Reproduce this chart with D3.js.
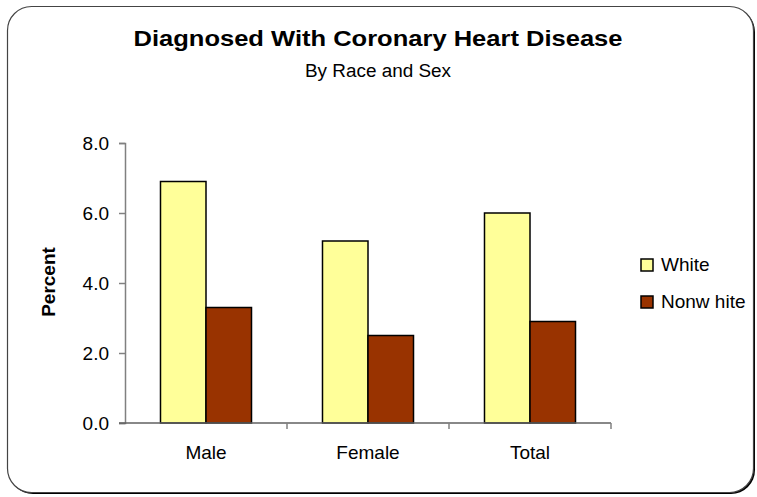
<!DOCTYPE html>
<html>
<head>
<meta charset="utf-8">
<script src="https://cdn.jsdelivr.net/npm/d3@7"></script>
<style>
  body { margin: 0; background: #fff; }
  text { font-family: "Liberation Sans", Arial, sans-serif; fill: #000; }
</style>
</head>
<body>
<div id="chart"></div>
<script>
var categories = ["Male", "Female", "Total"];
var series = ["White", "Nonwhite"];
var seriesLabels = ["White", "Nonw hite"];
var whiteValues = [6.9, 5.2, 6.0];
var nonwhiteValues = [3.3, 2.5, 2.9];
var yTicks = [0, 2, 4, 6, 8];

var width = 757,
    height = 497;

var color = d3.scaleOrdinal()
    .domain(series)
    .range(["#FFFF99", "#993300"]);

var data = categories.map(function(c, i) {
    return {category: c, White: whiteValues[i], Nonwhite: nonwhiteValues[i]};
});

var svg = d3.select("#chart").append("svg")
    .attr("width", width)
    .attr("height", height);

// chart frame with a dark shadow at the lower right
svg.append("rect")
    .attr("x", 9).attr("y", 8)
    .attr("width", 746).attr("height", 486)
    .attr("rx", 24)
    .attr("fill", "#000");
svg.append("rect")
    .attr("x", 7.5).attr("y", 6.5)
    .attr("width", 746).attr("height", 486)
    .attr("rx", 24)
    .attr("fill", "#fff")
    .attr("stroke", "#444")
    .attr("stroke-width", 1.2);

svg.append("text")
    .attr("x", 378).attr("y", 46)
    .attr("text-anchor", "middle")
    .attr("textLength", 489)
    .attr("lengthAdjust", "spacingAndGlyphs")
    .style("font-size", "22px")
    .style("font-weight", "bold")
    .text("Diagnosed With Coronary Heart Disease");

svg.append("text")
    .attr("x", 378).attr("y", 77)
    .attr("text-anchor", "middle")
    .attr("textLength", 146)
    .attr("lengthAdjust", "spacingAndGlyphs")
    .style("font-size", "18px")
    .text("By Race and Sex");

var x0 = d3.scaleBand()
    .domain(categories)
    .range([125, 611]);

var x1 = d3.scaleBand()
    .domain(series)
    .range([0, x0.bandwidth()])
    .paddingOuter(0.78);

var y = d3.scaleLinear()
    .domain([0, 8])
    .range([423, 143]);

var yAxis = d3.axisLeft(y)
    .tickValues(yTicks)
    .tickSize(6)
    .tickPadding(10)
    .tickFormat(d3.format(".1f"));

var gy = svg.append("g")
    .attr("transform", "translate(125,0)")
    .call(yAxis);
gy.select(".domain").attr("stroke", "#808080").attr("stroke-width", 1.5);
gy.selectAll(".tick line").attr("stroke", "#808080").attr("stroke-width", 1.5);
gy.selectAll(".tick text")
    .style("font-size", "19px")
    .attr("fill", "#000");

// bars
var groups = svg.append("g").selectAll("g")
    .data(data)
    .enter().append("g")
    .attr("transform", function(d) { return "translate(" + x0(d.category) + ",0)"; });

groups.selectAll("rect")
    .data(function(d) { return series.map(function(s) { return {key: s, value: d[s]}; }); })
    .enter().append("rect")
    .attr("x", function(d) { return x1(d.key); })
    .attr("y", function(d) { return y(d.value); })
    .attr("width", x1.bandwidth())
    .attr("height", function(d) { return y(0) - y(d.value); })
    .attr("fill", function(d) { return color(d.key); })
    .attr("stroke", "#000")
    .attr("stroke-width", 1.5);

// x axis: line, boundary ticks, centred labels
var gx = svg.append("g");
gx.append("line")
    .attr("x1", 119).attr("x2", 611)
    .attr("y1", y(0)).attr("y2", y(0))
    .attr("stroke", "#606060")
    .attr("stroke-width", 1.5);
gx.selectAll(".bound")
    .data(categories.slice(1).concat(["end"]))
    .enter().append("line")
    .attr("x1", function(d, i) { return 125 + x0.step() * (i + 1); })
    .attr("x2", function(d, i) { return 125 + x0.step() * (i + 1); })
    .attr("y1", y(0)).attr("y2", y(0) + 6)
    .attr("stroke", "#808080")
    .attr("stroke-width", 1.5);
gx.selectAll(".lab")
    .data(categories)
    .enter().append("text")
    .attr("x", function(d) { return x0(d) + x0.bandwidth() / 2; })
    .attr("y", 459)
    .attr("text-anchor", "middle")
    .style("font-size", "19px")
    .text(function(d) { return d; });

svg.append("text")
    .attr("transform", "translate(55,282) rotate(-90)")
    .attr("text-anchor", "middle")
    .style("font-size", "19px")
    .style("font-weight", "bold")
    .text("Percent");

// legend
var legend = svg.append("g").selectAll("g")
    .data(series)
    .enter().append("g")
    .attr("transform", function(d, i) { return "translate(641," + (259 + i * 37) + ")"; });
legend.append("rect")
    .attr("width", 12).attr("height", 12)
    .attr("fill", function(d) { return color(d); })
    .attr("stroke", "#000")
    .attr("stroke-width", 1.5);
legend.append("text")
    .attr("x", 20).attr("y", 12)
    .style("font-size", "19px")
    .text(function(d, i) { return seriesLabels[i]; });
</script>
</body>
</html>
